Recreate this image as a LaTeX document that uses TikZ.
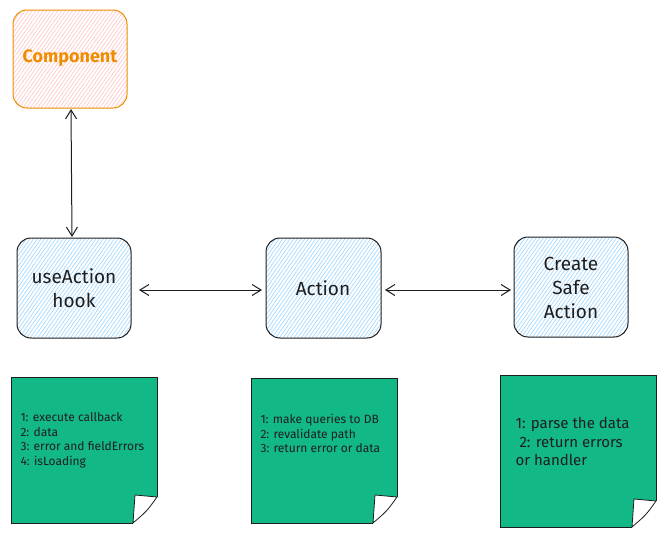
\documentclass[tikz,border=0pt]{standalone}
\usepackage{fontspec}
\setmainfont{Fira Sans}
\usetikzlibrary{patterns.meta,arrows.meta}
\definecolor{orangeC}{HTML}{F08C00}
\definecolor{pinkC}{HTML}{FFC9C9}
\definecolor{blueC}{HTML}{A5D8FF}
\definecolor{greenC}{HTML}{12B886}
\definecolor{inkC}{HTML}{1E1E1E}
\tikzset{
  compbox/.style={draw=orangeC, line width=1pt, rounded corners=14pt,
    pattern={Lines[angle=55,distance=3pt,line width=0.7pt]}, pattern color=pinkC},
  bluebox/.style={draw=inkC, line width=1pt, rounded corners=14pt,
    pattern={Lines[angle=55,distance=3pt,line width=0.7pt]}, pattern color=blueC},
  boxtext/.style={font=\fontsize{19}{24}\selectfont, text=inkC, align=center},
  notetext/.style={font=\fontsize{12}{14.5}\selectfont, text=inkC, align=left, anchor=north west},
  link/.style={draw=inkC, line width=1pt, {Straight Barb[length=9pt,width=11pt]}-{Straight Barb[length=9pt,width=11pt]}}
}
\begin{document}
\begin{tikzpicture}[x=1pt,y=-1pt]
\useasboundingbox (0,0) rectangle (665,538);
% boxes
\draw[compbox] (13,10) rectangle (127,108);
\node[boxtext, text=orangeC, font=\fontsize{18}{24}\selectfont\bfseries] (comp) at (70,58) {Component};
\coordinate (compS) at (71,109);
\draw[bluebox] (17,238) rectangle (131,338);
\node[boxtext] (hook) at (74,288) {useAction\\hook};
\coordinate (hookN) at (72,237);
\coordinate (hookE) at (139,290);
\draw[bluebox] (266,238) rectangle (381,338);
\node[boxtext] (act) at (323,288) {Action};
\coordinate (actW) at (262,290);
\coordinate (actE) at (385,290);
\draw[bluebox] (514,237) rectangle (628,337);
\node[boxtext] (csa) at (571,288) {Create\\Safe\\Action};
\coordinate (csaW) at (511,290);
% connectors
\draw[link] (compS) -- (hookN);
\draw[link] (hookE) -- (actW);
\draw[link] (actE) -- (csaW);
% notes
\foreach \xa/\ya/\xb/\yb/\nm in {11/377/157/523/n1, 251/378/397/523/n2, 500/375/656/527/n3}{
  \fill[greenC] (\xa,\ya) -- (\xb,\ya) -- (\xb,\yb-26) -- (\xb-24,\yb) -- (\xa,\yb) -- cycle;
  \draw[inkC, line width=0.8pt] (\xb-24,\yb) -- (\xa,\yb) -- (\xa,\ya) -- (\xb,\ya) -- (\xb,\yb-26);
  \filldraw[fill=white, draw=inkC, line width=0.8pt] (\xb,\yb-26) .. controls (\xb-10,\yb-12) .. (\xb-24,\yb) -- (\xb-22,\yb-28) -- cycle;
}
\node[notetext] (t1) at (17,409) {1: execute callback\\2: data\\3: error and fieldErrors\\4: isLoading};
\node[notetext] (t2) at (257,411) {1: make queries to DB\\2: revalidate path\\3: return error or data};
\node[notetext, font=\fontsize{15}{18.5}\selectfont] (t3) at (512,414) {1: parse the data\\\ 2: return errors\\or handler};
\end{tikzpicture}
\end{document}
